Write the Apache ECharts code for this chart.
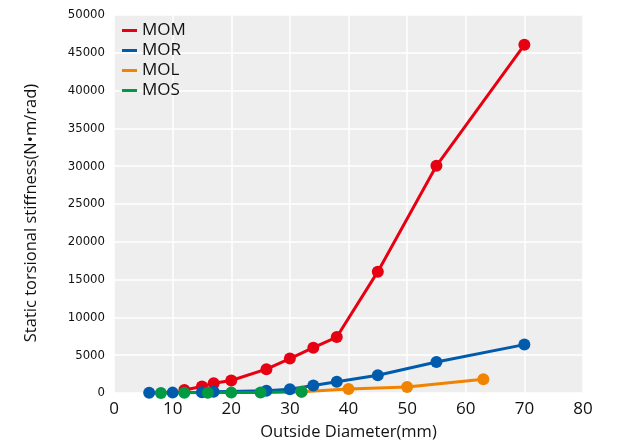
<!DOCTYPE html>
<html>
<head>
<meta charset="utf-8">
<script src="https://cdn.jsdelivr.net/npm/echarts@6/dist/echarts.min.js"></script>
<style>
  html, body { margin: 0; padding: 0; background: #fff; }
  #chart { width: 620px; height: 443px; }
</style>
</head>
<body>
<div id="chart"></div>
<script>
// outside diameter (mm) and stiffness (N·m/rad) per series
const momDia = [12, 15, 17, 20, 26, 30, 34, 38, 45, 55, 70];
const momVal = [400, 850, 1300, 1650, 3150, 4550, 6000, 7400, 16050, 30050, 46050];

const morDia = [6, 10, 15, 17, 26, 30, 34, 38, 45, 55, 70];
const morVal = [20, 50, 100, 150, 300, 500, 1000, 1500, 2350, 4100, 6400];

const molDia = [32, 40, 50, 63];
const molVal = [150, 530, 780, 1820];

const mosDia = [8, 12, 16, 20, 25, 32];
const mosVal = [10, 20, 30, 50, 80, 150];

const seriesNames = ["MOM", "MOR", "MOL", "MOS"];
const colors = ["#E60012", "#005BAC", "#F08300", "#009944"];

const pairs = (xs, ys) => xs.map((x, i) => [x, ys[i]]);
const allData = [
  pairs(momDia, momVal),
  pairs(morDia, morVal),
  pairs(molDia, molVal),
  pairs(mosDia, mosVal),
];

const font = "'Open Sans', 'Noto Sans', sans-serif";

const chart = echarts.init(document.getElementById("chart"), null, { renderer: "canvas" });
chart.setOption({
  animation: false,
  color: colors,
  grid: {
    left: 114, right: 37, top: 15, bottom: 50,
    outerBoundsMode: "none",
    show: true, backgroundColor: "#EEEEEE", borderWidth: 0,
  },
  legend: {
    data: seriesNames,
    orient: "vertical",
    left: 122,
    top: 22,
    padding: 0,
    icon: "rect",
    itemWidth: 15,
    itemHeight: 3,
    itemGap: 3,
    textStyle: { fontSize: 17, color: "#111", fontFamily: font },
  },
  xAxis: {
    type: "value",
    min: 0,
    max: 80,
    interval: 10,
    name: "Outside Diameter(mm)",
    nameLocation: "middle",
    nameGap: 31,
    nameTextStyle: { fontSize: 16.5, color: "#111", fontFamily: font },
    axisLine: { show: false },
    axisTick: { show: false },
    axisLabel: { fontSize: 17, color: "#111", fontFamily: font, margin: 8 },
    splitLine: { show: true, lineStyle: { color: "#fff", width: 1.5 } },
  },
  yAxis: {
    type: "value",
    min: 0,
    max: 50000,
    interval: 5000,
    name: "Static torsional stiffness(N•m/rad)",
    nameLocation: "middle",
    nameGap: 74,
    nameTextStyle: { fontSize: 16.5, color: "#111", fontFamily: font, padding: [0, 18, 0, 0] },
    axisLine: { show: false },
    axisTick: { show: false },
    axisLabel: {
      fontSize: 13,
      color: "#111",
      fontFamily: "'Liberation Sans Narrow', 'DejaVu Sans Condensed', sans-serif",
      margin: 9,
      formatter: (v) => String(v),
    },
    splitLine: { show: true, lineStyle: { color: "#fff", width: 1.5 } },
  },
  series: seriesNames.map((name, i) => ({
    name,
    type: "line",
    data: allData[i],
    symbol: "circle",
    symbolSize: 12,
    lineStyle: { width: 3, color: colors[i] },
    itemStyle: { color: colors[i] },
  })),
});
</script>
</body>
</html>
